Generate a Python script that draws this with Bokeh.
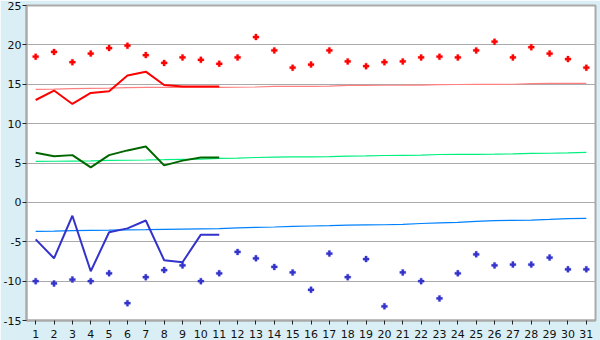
from bokeh.plotting import figure
from bokeh.models import FixedTicker, Range1d
from bokeh.embed import file_html
from bokeh.resources import INLINE

days = list(range(1, 32))
rec_max = [18.5, 19.1, 17.8, 18.9, 19.6, 19.9, 18.7, 17.7, 18.4, 18.1, 17.6, 18.4, 21.0, 19.3, 17.1, 17.5,
           19.3, 17.9, 17.3, 17.8, 17.9, 18.4, 18.5, 18.4, 19.3, 20.4, 18.4, 19.7, 18.9, 18.2, 17.1]
rec_min = [-10.0, -10.3, -9.8, -10.0, -9.0, -12.8, -9.5, -8.6, -8.0, -10.0, -9.0, -6.3, -7.1, -8.2, -8.9, -11.1,
           -6.5, -9.5, -7.2, -13.2, -8.9, -10.0, -12.2, -9.0, -6.6, -8.0, -7.9, -7.9, -7.0, -8.5, -8.5]
cur_days = list(range(1, 12))
cur_max = [13.0, 14.2, 12.5, 13.9, 14.1, 16.1, 16.6, 14.9, 14.7, 14.7, 14.7]
cur_mean = [6.3, 5.85, 6.0, 4.45, 6.0, 6.6, 7.1, 4.7, 5.3, 5.7, 5.7]
cur_min = [-4.7, -7.1, -1.7, -8.75, -3.8, -3.3, -2.3, -7.35, -7.6, -4.1, -4.1]
norm_max = [14.35, 14.38, 14.45, 14.48, 14.5, 14.58, 14.6, 14.6, 14.6, 14.6, 14.6, 14.62, 14.65, 14.72, 14.73,
            14.74, 14.76, 14.85, 14.86, 14.87, 14.88, 14.9, 14.96, 14.97, 14.98, 14.99, 15.0, 15.08, 15.1, 15.1, 15.12]
norm_mean = [5.2, 5.22, 5.25, 5.28, 5.33, 5.35, 5.38, 5.42, 5.47, 5.5, 5.58, 5.63, 5.7, 5.75, 5.77, 5.78, 5.8,
             5.87, 5.9, 5.95, 5.97, 6.0, 6.08, 6.1, 6.1, 6.12, 6.15, 6.22, 6.24, 6.28, 6.36]
norm_min = [-3.67, -3.65, -3.58, -3.55, -3.53, -3.5, -3.47, -3.43, -3.4, -3.37, -3.33, -3.25, -3.17, -3.13, -3.05,
            -3.0, -2.95, -2.88, -2.86, -2.84, -2.8, -2.68, -2.6, -2.53, -2.42, -2.33, -2.28, -2.25, -2.17, -2.07, -2.02]
y_ticks = [-15, -10, -5, 0, 5, 10, 15, 20, 25]
y_tick_labels = ["-15", "-10", "-5", "0", "5", "10", "15", "20", "25"]

BG = "#daeff5"
GRID = "#aaaaaa"
FONT = "DejaVu Sans"

p = figure(width=600, height=340, output_backend="svg", toolbar_location=None,
           x_range=Range1d(0.5, 31.5), y_range=Range1d(-15, 25),
           min_border_left=0, min_border_right=5, min_border_top=5, min_border_bottom=20,
           background_fill_color="white", border_fill_color=BG)
p.outline_line_color = GRID
p.outline_line_width = 2

p.xgrid.visible = False
p.ygrid.grid_line_color = GRID
p.ygrid.grid_line_width = 1

p.xaxis.ticker = FixedTicker(ticks=days)
p.yaxis.ticker = FixedTicker(ticks=y_ticks)
p.yaxis.major_label_overrides = {t: s for t, s in zip(y_ticks, y_tick_labels)}
for ax in (p.xaxis[0], p.yaxis[0]):
    ax.axis_line_color = GRID
    ax.axis_line_width = 2
    ax.major_tick_line_color = "#222222"
    ax.major_tick_in = 0
    ax.major_tick_out = 4
    ax.minor_tick_line_color = None
    ax.major_label_text_font = FONT
    ax.major_label_text_font_size = "11px"
    ax.major_label_text_color = "#111111"
p.xaxis.major_label_standoff = 5
p.yaxis.major_label_standoff = 1

p.line(days, norm_max, line_color="#ff8080", line_width=1.2)
p.line(days, norm_mean, line_color="#00f080", line_width=1.2)
p.line(days, norm_min, line_color="#0080ff", line_width=1.2)

p.line(cur_days, cur_max, line_color="#ff0000", line_width=2)
p.line(cur_days, cur_mean, line_color="#006600", line_width=2)
p.line(cur_days, cur_min, line_color="#3333cc", line_width=2)

p.scatter(days, rec_max, marker="plus", size=6, fill_color="#ff0000", line_color="#ff0000", line_width=0.3)
p.scatter(days, rec_min, marker="plus", size=6, fill_color="#3333cc", line_color="#3333cc", line_width=0.3)

open("out.html", "w").write(file_html(p, INLINE))
